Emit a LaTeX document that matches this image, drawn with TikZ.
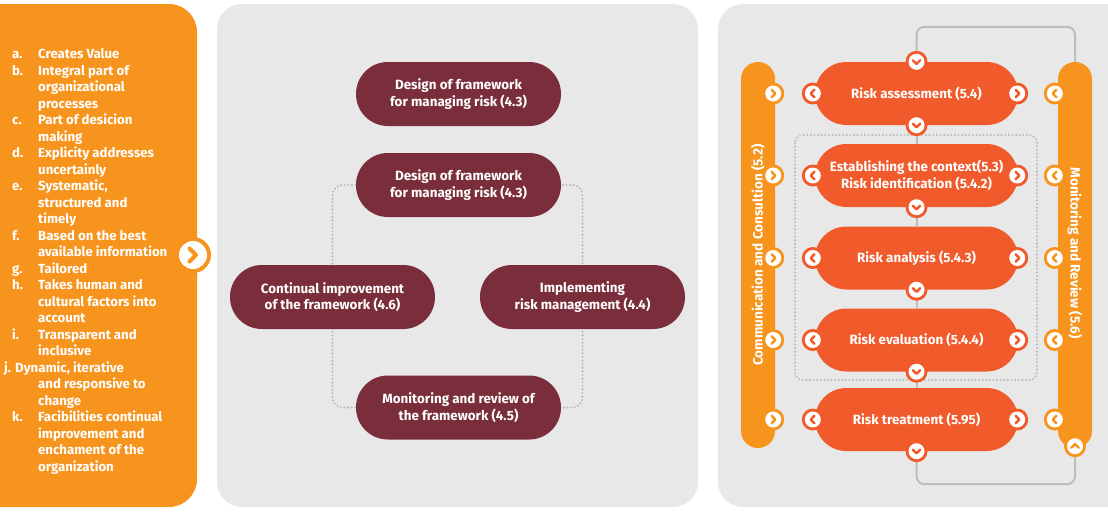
\documentclass[tikz,border=0pt]{standalone}
\usepackage{fontspec}
\setmainfont{Fira Sans}
\usetikzlibrary{calc}
\definecolor{orng}{HTML}{F7941D}
\definecolor{redc}{HTML}{F15A2B}
\definecolor{maroon}{HTML}{7A2D3A}
\definecolor{panel}{HTML}{E8E8E8}
\definecolor{lgray}{HTML}{BDBDBD}
\pgfdeclarelayer{back}
\pgfdeclarelayer{mid}
\pgfsetlayers{back,mid,main}
\tikzset{
  pics/chv/.style 2 args={code={
    \fill[#1] (0pt,0pt) circle[radius=11pt];
    \fill[white] (0pt,0pt) circle[radius=8pt];
    \draw[#1, line width=2.4pt, line cap=round, line join=round, rotate=#2] (-1.6pt,3.8pt) -- (2.1pt,0pt) -- (-1.6pt,-3.8pt);
  }}
}
\begin{document}
\begin{tikzpicture}[x=1pt,y=-1pt,
  listtxt/.style={anchor=base west, inner sep=0pt, text=white, font=\fontsize{13.2}{15}\selectfont\bfseries},
  mnode/.style={fill=maroon, minimum width=205pt, minimum height=64pt, rounded corners=31.9pt, inner sep=0pt, align=center, text=white, font=\fontsize{13.4}{16.5}\selectfont\bfseries},
  rnode/.style={fill=redc, minimum width=203pt, minimum height=63pt, rounded corners=31.4pt, inner sep=0pt, align=center, text=white, font=\fontsize{13.4}{16.5}\selectfont\bfseries},
  bar/.style={fill=orng, minimum width=34pt, minimum height=386pt, rounded corners=16.9pt, inner sep=0pt},
  bartxt/.style={inner sep=0pt, text=white, font=\fontsize{13.5}{15}\selectfont\bfseries},
  dots/.style={draw=lgray, line width=2.4pt, dash pattern=on 0pt off 3.6pt, line cap=round},
  loopc/.style={draw=lgray, line width=2pt},
]
\useasboundingbox (0,0) rectangle (1108,512);
\begin{pgfonlayer}{back}
\fill[white] (0,0) rectangle (1108,512);
\fill[orng, rounded corners=28pt] (-40,4) rectangle (197,507);
\fill[panel, rounded corners=25pt] (217,4) rectangle (698,507);
\fill[panel, rounded corners=25pt] (718,4) rectangle (1160,507);
\end{pgfonlayer}

% left list
\foreach \k/\t in {0/{Creates Value},1/{Integral part of},2/{organizational},3/{processes},
  4/{Part of desicion},5/{making},6/{Explicity addresses},7/{uncertainly},
  8/{Systematic,},9/{structured and},10/{timely},11/{Based on the best},
  12/{available information},13/{Tailored},14/{Takes human and},15/{cultural factors into},
  16/{account},17/{Transparent and},18/{inclusive},20/{and responsive to},21/{change},
  22/{Facibilities continual},23/{improvement and},24/{enchament of the},25/{organization}}
  \node[listtxt] (t\k) at (38,{58.5+16.5*\k}) {\t};
\foreach \k/\t in {0/a.,1/b.,4/c.,6/d.,8/e.,11/f.,13/g.,14/h.,17/i.,22/k.}
  \node[listtxt] (lb\k) at (12,{58.5+16.5*\k}) {\t};
\node[listtxt] (t19) at (4,{58.5+16.5*19}) {j. Dynamic, iterative};

% big chevron
\fill[orng] (193,255) circle[radius=18pt];
\fill[white] (193,255) circle[radius=14pt];
\draw[orng, line width=4pt, line cap=round, line join=round] (189.5,248.5) -- (196,255) -- (189.5,261.5);

% middle
\node[mnode] (d1) at (458.5,94) {Design of framework\\for managing risk (4.3)};
\node[mnode] (d2) at (458.5,185) {Design of framework\\for managing risk (4.3)};
\node[mnode] (ci) at (332.5,297) {Continual improvement\\of the framework (4.6)};
\node[mnode] (im) at (582.5,297) {Implementing\\risk management (4.4)};
\node[mnode] (mo) at (458.5,407.5) {Monitoring and review of\\the framework (4.5)};
\begin{pgfonlayer}{mid}
\draw[dots, rounded corners=10pt] (d2.center) -| (im.center) |- (mo.center) -| (ci.center) |- (d2.center);
\end{pgfonlayer}

% right
\node[rnode] (ra) at (916.5,93.5) {Risk assessment (5.4)};
\node[rnode] (ec) at (916.5,175.5) {Establishing the context(5.3)\\Risk identification (5.4.2)};
\node[rnode] (an) at (916.5,258) {Risk analysis (5.4.3)};
\node[rnode] (ev) at (916.5,340) {Risk evaluation (5.4.4)};
\node[rnode] (rt) at (916.5,419.5) {Risk treatment (5.95)};
\node[bar] (cb) at (758,255) {};
\node[bar] (mb) at (1075,255) {};
\node[bartxt, rotate=90] (cbt) at (758,255) {Communication and Consultion (5.2)};
\node[bartxt, rotate=-90] (mbt) at (1075,253) {Monitoring and Review (5.6)};

\begin{pgfonlayer}{mid}
\draw[dots, rounded corners=8pt] (795,135) rectangle (1037,380);
\draw[loopc] (ra.south) -- (ec.north);
\draw[loopc] (ec.south) -- (an.north);
\draw[loopc] (an.south) -- (ev.north);
\draw[loopc] (ev.south) -- (rt.north);
\draw[loopc, rounded corners=8pt] (ra.north) -- ++(0,-35) -| (mb.north);
\draw[loopc, rounded corners=8pt] (rt.south) -- ++(0,33) -| (mb.south);
\end{pgfonlayer}

\foreach \n in {ra,ec,an,ev,rt} {
  \pic at ([xshift=-2pt]cb.east |- \n.center) {chv={orng}{0}};
  \pic at ([xshift=-3pt]mb.west |- \n.center) {chv={orng}{180}};
  \pic at ([xshift=-2pt]\n.west) {chv={redc}{180}};
  \pic at ([xshift=-1pt]\n.east) {chv={redc}{0}};
  \pic at (\n.south) {chv={redc}{-90}};
}
\pic at (ra.north) {chv={redc}{-90}};
\pic at ([yshift=2pt]mb.south) {chv={orng}{90}};
\end{tikzpicture}
\end{document}
